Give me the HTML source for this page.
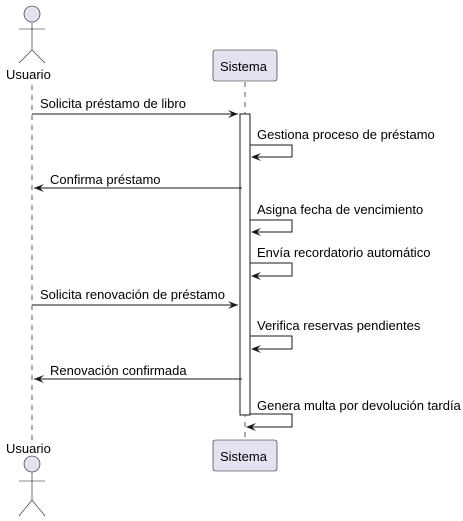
<!DOCTYPE html>
<html><head><style>body{margin:0;background:#fff}svg{display:block}text{font-family:"Liberation Sans",sans-serif;font-size:13px;fill:#000}</style></head><body>
<svg width="463" height="521" viewBox="0 0 463 521">
<g stroke="#181818" stroke-width="0.7" stroke-dasharray="5,5" fill="none">
<line x1="32" y1="85" x2="32" y2="440"/>
<line x1="245" y1="82" x2="245" y2="440"/>
</g>
<g fill="#E2E2F0" stroke="#181818" stroke-width="0.6">
<circle cx="32" cy="14" r="8"/>
<circle cx="32" cy="464" r="8"/>
<rect x="213" y="50" width="64" height="31" rx="2.5"/>
<rect x="213" y="440" width="64" height="31" rx="2.5"/>
</g>
<g stroke="#181818" stroke-width="0.6" fill="none">
<path d="M32 22V50M19 29H45M19 63L32 50L45 63"/>
<path d="M32 472V500M19 481H45M19 516L32 500L45 516"/>
</g>
<text x="6" y="79" font-size="14">Usuario</text>
<text x="6" y="453" font-size="14">Usuario</text>
<text x="220" y="71" font-size="14">Sistema</text>
<text x="220" y="461" font-size="14">Sistema</text>
<rect x="240" y="114" width="10" height="301" fill="#fff" stroke="#181818" stroke-width="1"/>
<g stroke="#181818" stroke-width="1" fill="none">
<line x1="32" y1="114" x2="238" y2="114"/>
<line x1="242" y1="188" x2="34" y2="188"/>
<line x1="32" y1="305" x2="238" y2="305"/>
<line x1="242" y1="379" x2="34" y2="379"/>
<path d="M250 145H292V157H252"/>
<path d="M250 220H292V232H252"/>
<path d="M250 263H292V276H252"/>
<path d="M250 336H292V349H252"/>
<path d="M250 414H292V427H247"/>
</g>
<g fill="#181818">
<path d="M238 114l-10-4 4 4-4 4z"/>
<path d="M238 305l-10-4 4 4-4 4z"/>
<path d="M34 188l10-4-4 4 4 4z"/>
<path d="M34 379l10-4-4 4 4 4z"/>
<path d="M251 157l10-4-4 4 4 4z"/>
<path d="M251 232l10-4-4 4 4 4z"/>
<path d="M251 276l10-4-4 4 4 4z"/>
<path d="M251 349l10-4-4 4 4 4z"/>
<path d="M246 427l10-4-4 4 4 4z"/>
</g>
<text x="40" y="108">Solicita préstamo de libro</text>
<text x="257" y="139">Gestiona proceso de préstamo</text>
<text x="50" y="184">Confirma préstamo</text>
<text x="257" y="214">Asigna fecha de vencimiento</text>
<text x="257" y="257">Envía recordatorio automático</text>
<text x="40" y="299">Solicita renovación de préstamo</text>
<text x="257" y="330">Verifica reservas pendientes</text>
<text x="50" y="375">Renovación confirmada</text>
<text x="257" y="410">Genera multa por devolución tardía</text>
</svg>
</body></html>
